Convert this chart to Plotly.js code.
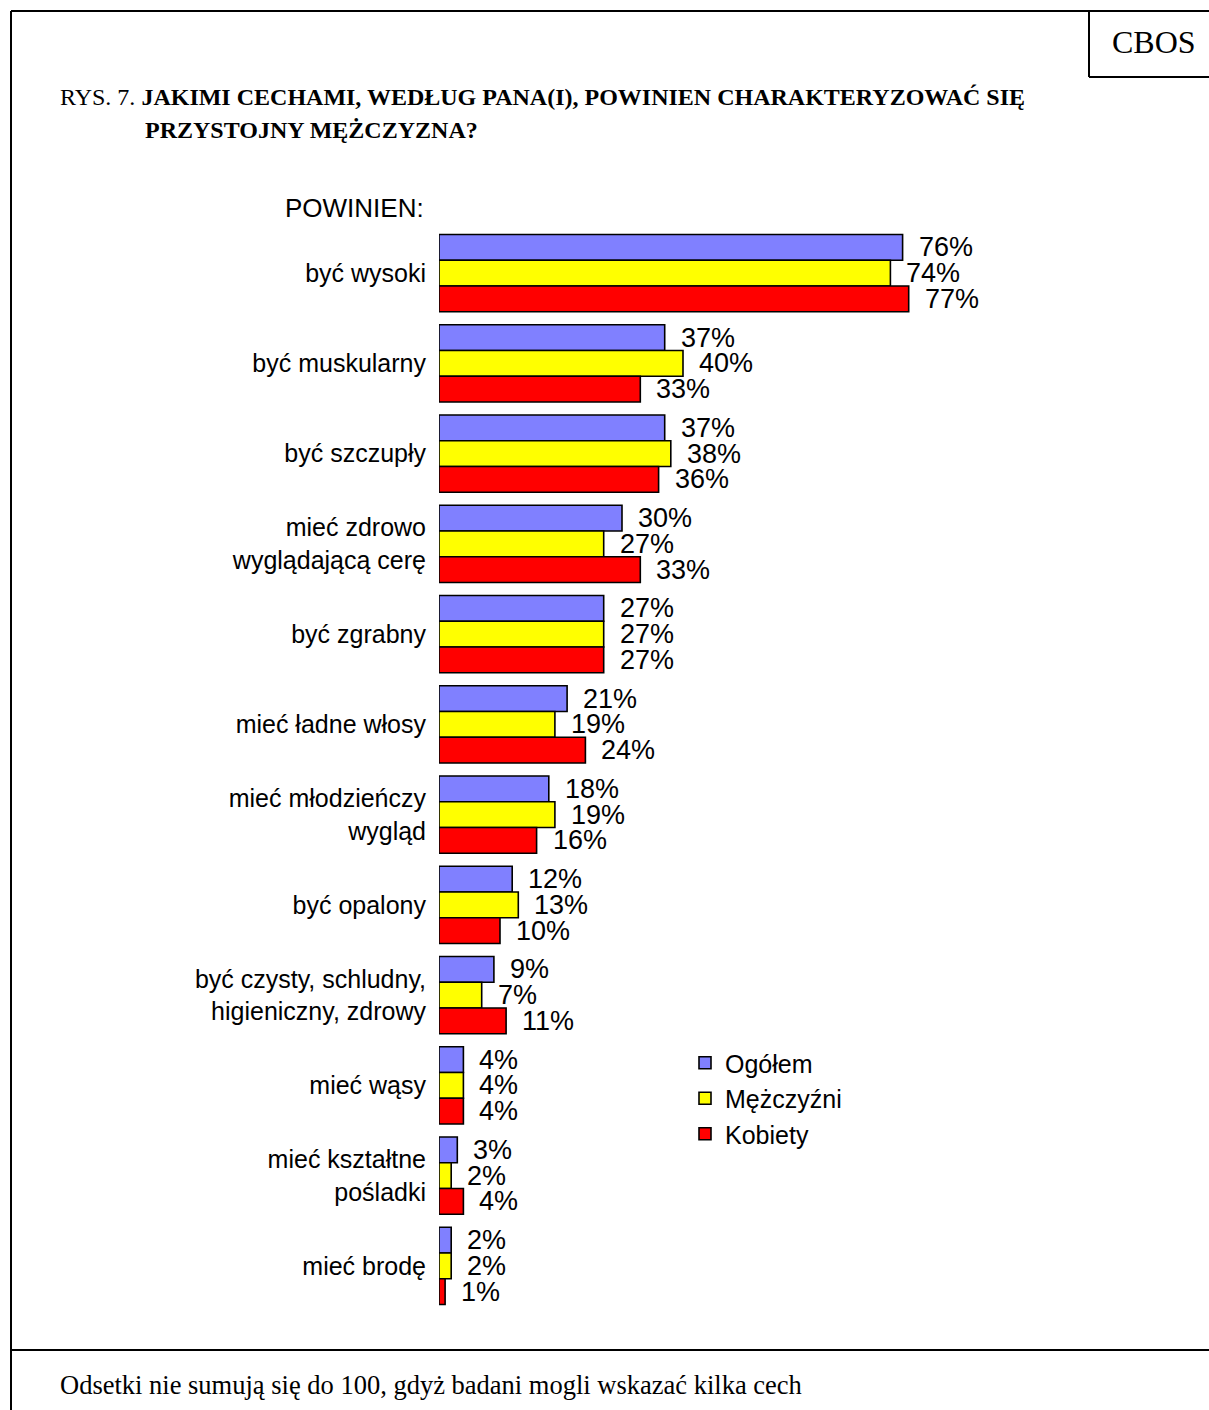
<!DOCTYPE html>
<html>
<head>
<meta charset="utf-8">
<script src="https://cdn.plot.ly/plotly-3.0.1.min.js"></script>
<style>
html,body{margin:0;padding:0;background:#fff;}
#chart{width:1209px;height:1410px;}
</style>
</head>
<body>
<div id="chart"></div>
<script>
const categories = [
  "być wysoki",
  "być muskularny",
  "być szczupły",
  "mieć zdrowo<br>wyglądającą cerę",
  "być zgrabny",
  "mieć ładne włosy",
  "mieć młodzieńczy<br>wygląd",
  "być opalony",
  "być czysty, schludny,<br>higieniczny, zdrowy",
  "mieć wąsy",
  "mieć kształtne<br>pośladki",
  "mieć brodę"
];
const seriesNames = ["Ogółem", "Mężczyźni", "Kobiety"];
const ogolem    = [76, 37, 37, 30, 27, 21, 18, 12, 9, 4, 3, 2];
const mezczyzni = [74, 40, 38, 27, 27, 19, 19, 13, 7, 4, 2, 2];
const kobiety   = [77, 33, 36, 33, 27, 24, 16, 10, 11, 4, 4, 1];
const colors = ["#8080FF", "#FFFF00", "#FF0000"];

const W = 1209, H = 1410;
const M = {l: 439, r: 160, t: 228, b: 99};
const pw = W - M.l - M.r, ph = H - M.t - M.b;
const px = x => (x - M.l) / pw;
const py = y => (H - M.b - y) / ph;

const sans = "Liberation Sans, Arial, sans-serif";
const serif = "Liberation Serif, Times New Roman, serif";

const allSeries = [ogolem, mezczyzni, kobiety];
const traces = allSeries.map((vals, i) => ({
  type: "bar",
  orientation: "h",
  name: seriesNames[i],
  x: vals,
  y: categories,
  marker: {color: colors[i], line: {color: "#000", width: 1.6}},
  hoverinfo: "skip"
}));

const barPx = ph / categories.length * (1 - 0.144) / 3;
const annotations = [];
allSeries.forEach((vals, i) => {
  vals.forEach((v, j) => {
    annotations.push({
      x: v, y: categories[j], xref: "x", yref: "y",
      text: v + "%", showarrow: false, xanchor: "left", yanchor: "middle",
      xshift: 14, yshift: (1 - i) * barPx,
      font: {family: sans, size: 27, color: "#000"}
    });
  });
});

annotations.push({
  x: px(426), y: py(208), xref: "paper", yref: "paper", xanchor: "right", yanchor: "middle",
  text: "POWINIEN:", showarrow: false, font: {family: sans, size: 26, color: "#000"}
});
annotations.push({
  x: px(58), y: py(97), xref: "paper", yref: "paper", xanchor: "left", yanchor: "middle",
  text: "RYS. 7. <b>JAKIMI CECHAMI, WEDŁUG PANA(I), POWINIEN CHARAKTERYZOWAĆ SIĘ</b>",
  showarrow: false, font: {family: serif, size: 24, color: "#000"}
});
annotations.push({
  x: px(143), y: py(130), xref: "paper", yref: "paper", xanchor: "left", yanchor: "middle",
  text: "<b>PRZYSTOJNY MĘŻCZYZNA?</b>",
  showarrow: false, font: {family: serif, size: 24, color: "#000"}
});
annotations.push({
  x: px(1154), y: py(42), xref: "paper", yref: "paper", xanchor: "center", yanchor: "middle",
  text: "CBOS", showarrow: false, font: {family: serif, size: 32, color: "#000"}
});
annotations.push({
  x: px(58), y: py(1385), xref: "paper", yref: "paper", xanchor: "left", yanchor: "middle",
  text: "Odsetki nie sumują się do 100, gdyż badani mogli wskazać kilka cech",
  showarrow: false, font: {family: serif, size: 26.5, color: "#000"}
});

const line = (x0, y0, x1, y1) => ({
  type: "line", xref: "paper", yref: "paper",
  x0: px(x0), y0: py(y0), x1: px(x1), y1: py(y1),
  line: {color: "#000", width: 2}
});
const shapes = [
  line(11, 11, 1209, 11),
  line(11, 11, 11, 1410),
  line(11, 1350, 1209, 1350),
  line(1089, 11, 1089, 77),
  line(1089, 77, 1209, 77)
];

const layout = {
  width: W, height: H,
  margin: M,
  paper_bgcolor: "#fff", plot_bgcolor: "rgba(0,0,0,0)",
  barmode: "group", bargap: 0.144, bargroupgap: 0,
  showlegend: true,
  legend: {
    x: px(685), y: py(1040), xanchor: "left", yanchor: "top",
    font: {family: sans, size: 25, color: "#000"},
    bgcolor: "rgba(0,0,0,0)", tracegroupgap: 0, itemwidth: 30
  },
  xaxis: {range: [0, 100], visible: false, fixedrange: true},
  yaxis: {
    type: "category", autorange: "reversed", showgrid: false, zeroline: false, showline: false,
    ticks: "outside", ticklen: 7, tickcolor: "rgba(0,0,0,0)",
    tickfont: {family: sans, size: 25, color: "#000"}, fixedrange: true
  },
  annotations: annotations,
  shapes: shapes,
  font: {family: sans, color: "#000"}
};

Plotly.newPlot("chart", traces, layout, {displayModeBar: false, staticPlot: true});
</script>
</body>
</html>
